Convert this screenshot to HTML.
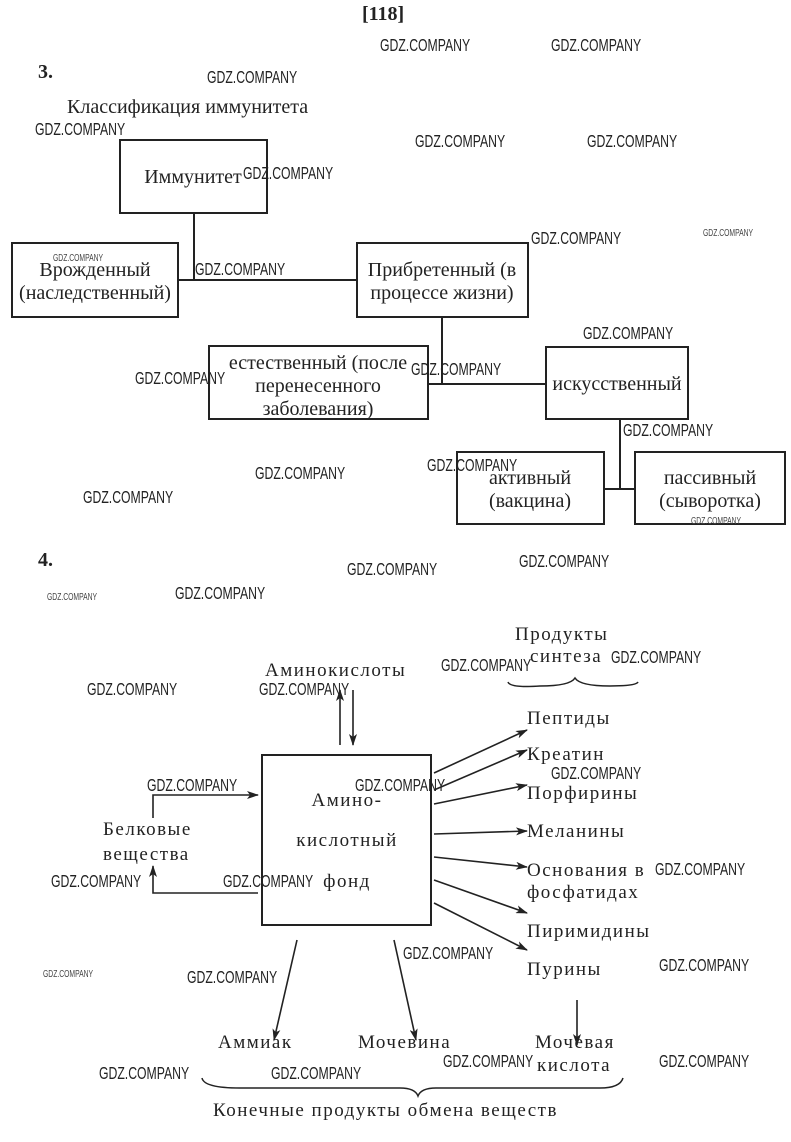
<!DOCTYPE html>
<html><head><meta charset="utf-8"><style>
html,body{margin:0;padding:0;background:#fff;}
svg{display:block;}
.s{font-family:"Liberation Serif",serif;font-size:20px;fill:#222;}
.t{font-family:"Liberation Serif",serif;font-size:19px;fill:#222;letter-spacing:1.5px;}
.w{font-family:"Liberation Sans",sans-serif;font-size:18px;fill:#222;}
.ws{font-family:"Liberation Sans",sans-serif;font-size:10px;fill:#444;}
</style></head><body>
<svg width="791" height="1142" viewBox="0 0 791 1142" xmlns="http://www.w3.org/2000/svg">
<defs><marker id="a" markerWidth="12" markerHeight="8" refX="11" refY="4" orient="auto" markerUnits="userSpaceOnUse"><path d="M0,0 L12,4 L0,8 L3,4 Z" fill="#222"/></marker></defs>
<text x="362" y="20" class="s" font-weight="bold" font-size="18">[118]</text>
<text x="38" y="78" class="s" font-weight="bold" font-size="18">3.</text>
<text x="67" y="113" class="s">Классификация иммунитета</text>
<g fill="none" stroke="#222" stroke-width="2">
<rect x="120" y="140" width="147" height="73"/>
<rect x="12" y="243" width="166" height="74"/>
<rect x="357" y="243" width="171" height="74"/>
<rect x="209" y="346" width="219" height="73"/>
<rect x="546" y="347" width="142" height="72"/>
<rect x="457" y="452" width="147" height="72"/>
<rect x="635" y="452" width="150" height="72"/>
<path d="M194 213V280M178 280H357M442 317V384M428 384H546M620 419V489M604 489H635"/>
</g>
<g class="s" text-anchor="middle">
<text x="193" y="183">Иммунитет</text>
<text x="95" y="276">Врожденный</text><text x="95" y="299">(наследственный)</text>
<text x="442" y="276">Прибретенный (в</text><text x="442" y="299">процессе жизни)</text>
<text x="318" y="369">естественный (после</text><text x="318" y="392">перенесенного</text><text x="318" y="415">заболевания)</text>
<text x="617" y="390">искусственный</text>
<text x="530" y="484">активный</text><text x="530" y="507">(вакцина)</text>
<text x="710" y="484">пассивный</text><text x="710" y="507">(сыворотка)</text>
</g>
<text x="38" y="566" class="s" font-weight="bold" font-size="18">4.</text>
<g class="t">
<text x="515" y="640">Продукты</text>
<text x="530" y="662">синтеза</text>
<text x="265" y="676">Аминокислоты</text>
<text x="527" y="724">Пептиды</text>
<text x="527" y="760">Креатин</text>
<text x="527" y="799">Порфирины</text>
<text x="527" y="837">Меланины</text>
<text x="527" y="876">Основания в</text>
<text x="527" y="898">фосфатидах</text>
<text x="527" y="937">Пиримидины</text>
<text x="527" y="975">Пурины</text>
<text x="103" y="835">Белковые</text>
<text x="103" y="860">вещества</text>
<text x="218" y="1048">Аммиак</text>
<text x="358" y="1048">Мочевина</text>
<text x="535" y="1048">Мочевая</text>
<text x="537" y="1071">кислота</text>
<text x="213" y="1116">Конечные продукты обмена веществ</text>
</g>
<g class="t" font-size="20" text-anchor="middle">
<text x="347" y="806">Амино-</text>
<text x="347" y="846">кислотный</text>
<text x="347" y="887">фонд</text>
</g>
<g fill="none" stroke="#222" stroke-width="2">
<rect x="262" y="755" width="169" height="170"/>
<path d="M508 682Q510 688 540 686Q570 686 575 678Q580 686 610 686Q636 686 638 682" stroke-width="1.5"/>
<path d="M202 1078Q204 1088 240 1088L400 1088Q415 1088 418 1096Q421 1088 436 1088L600 1088Q620 1088 623 1078" stroke-width="1.5"/>
</g>
<g stroke="#222" stroke-width="1.6" fill="none" marker-end="url(#a)">
<path d="M340 745V690"/><path d="M353 690V745"/>
<path d="M153 818V795H258"/><path d="M258 893H153V866"/>
<path d="M434 773L527 730"/><path d="M434 790L527 750"/><path d="M434 804L527 785"/>
<path d="M434 834L527 831"/><path d="M434 857L527 867"/><path d="M434 880L527 913"/>
<path d="M434 903L527 950"/>
<path d="M297 940L274 1040"/><path d="M394 940L416 1040"/><path d="M577 1000V1045"/>
</g>
<g class="w">
<g transform="translate(380,51) scale(.68,1)"><text>GDZ.COMPANY</text></g>
<g transform="translate(551,51) scale(.68,1)"><text>GDZ.COMPANY</text></g>
<g transform="translate(207,83) scale(.68,1)"><text>GDZ.COMPANY</text></g>
<g transform="translate(35,135) scale(.68,1)"><text>GDZ.COMPANY</text></g>
<g transform="translate(415,147) scale(.68,1)"><text>GDZ.COMPANY</text></g>
<g transform="translate(587,147) scale(.68,1)"><text>GDZ.COMPANY</text></g>
<g transform="translate(243,179) scale(.68,1)"><text>GDZ.COMPANY</text></g>
<g transform="translate(195,275) scale(.68,1)"><text>GDZ.COMPANY</text></g>
<g transform="translate(531,244) scale(.68,1)"><text>GDZ.COMPANY</text></g>
<g transform="translate(583,339) scale(.68,1)"><text>GDZ.COMPANY</text></g>
<g transform="translate(135,384) scale(.68,1)"><text>GDZ.COMPANY</text></g>
<g transform="translate(411,375) scale(.68,1)"><text>GDZ.COMPANY</text></g>
<g transform="translate(623,436) scale(.68,1)"><text>GDZ.COMPANY</text></g>
<g transform="translate(427,471) scale(.68,1)"><text>GDZ.COMPANY</text></g>
<g transform="translate(255,479) scale(.68,1)"><text>GDZ.COMPANY</text></g>
<g transform="translate(83,503) scale(.68,1)"><text>GDZ.COMPANY</text></g>
<g transform="translate(347,575) scale(.68,1)"><text>GDZ.COMPANY</text></g>
<g transform="translate(519,567) scale(.68,1)"><text>GDZ.COMPANY</text></g>
<g transform="translate(175,599) scale(.68,1)"><text>GDZ.COMPANY</text></g>
<g transform="translate(441,671) scale(.68,1)"><text>GDZ.COMPANY</text></g>
<g transform="translate(611,663) scale(.68,1)"><text>GDZ.COMPANY</text></g>
<g transform="translate(87,695) scale(.68,1)"><text>GDZ.COMPANY</text></g>
<g transform="translate(259,695) scale(.68,1)"><text>GDZ.COMPANY</text></g>
<g transform="translate(147,791) scale(.68,1)"><text>GDZ.COMPANY</text></g>
<g transform="translate(355,791) scale(.68,1)"><text>GDZ.COMPANY</text></g>
<g transform="translate(551,779) scale(.68,1)"><text>GDZ.COMPANY</text></g>
<g transform="translate(51,887) scale(.68,1)"><text>GDZ.COMPANY</text></g>
<g transform="translate(223,887) scale(.68,1)"><text>GDZ.COMPANY</text></g>
<g transform="translate(655,875) scale(.68,1)"><text>GDZ.COMPANY</text></g>
<g transform="translate(403,959) scale(.68,1)"><text>GDZ.COMPANY</text></g>
<g transform="translate(187,983) scale(.68,1)"><text>GDZ.COMPANY</text></g>
<g transform="translate(659,971) scale(.68,1)"><text>GDZ.COMPANY</text></g>
<g transform="translate(99,1079) scale(.68,1)"><text>GDZ.COMPANY</text></g>
<g transform="translate(271,1079) scale(.68,1)"><text>GDZ.COMPANY</text></g>
<g transform="translate(443,1067) scale(.68,1)"><text>GDZ.COMPANY</text></g>
<g transform="translate(659,1067) scale(.68,1)"><text>GDZ.COMPANY</text></g>
</g>
<g class="ws">
<g transform="translate(53,261) scale(.68,1)"><text>GDZ.COMPANY</text></g>
<g transform="translate(703,236) scale(.68,1)"><text>GDZ.COMPANY</text></g>
<g transform="translate(691,524) scale(.68,1)"><text>GDZ.COMPANY</text></g>
<g transform="translate(47,600) scale(.68,1)"><text>GDZ.COMPANY</text></g>
<g transform="translate(43,977) scale(.68,1)"><text>GDZ.COMPANY</text></g>
</g>
</svg>
</body></html>
